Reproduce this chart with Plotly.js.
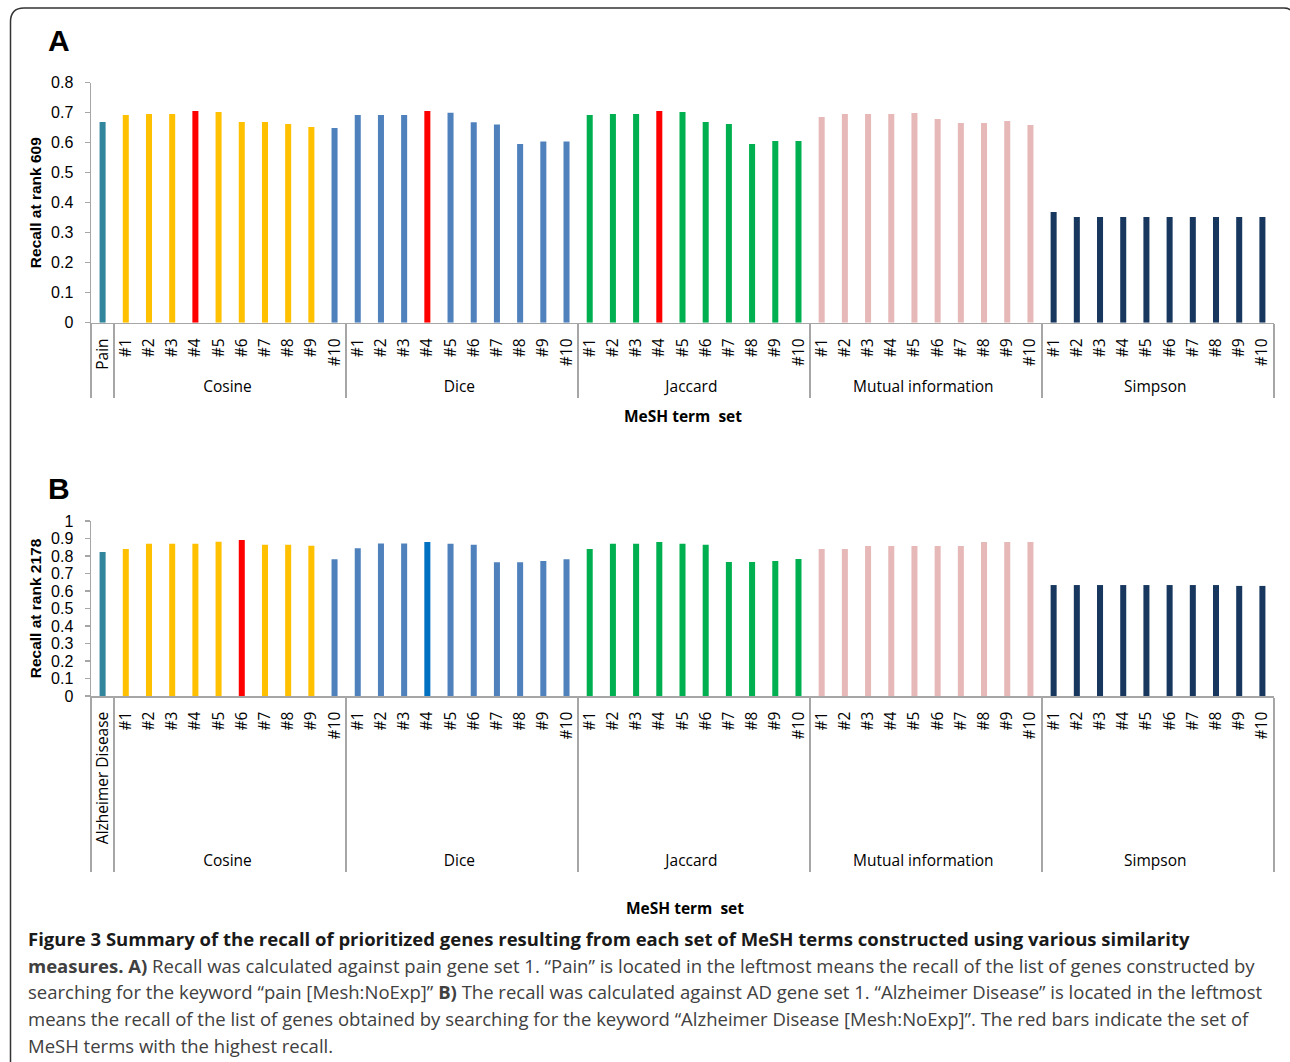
<!DOCTYPE html>
<html>
<head>
<meta charset="utf-8">
<script src="https://cdn.plot.ly/plotly-3.0.1.min.js"></script>
<style>html,body{margin:0;padding:0;background:#fff;}#chart{width:1290px;height:1062px;}</style>
</head>
<body>
<div id="chart"></div>
<script>
// ---------- data ----------
const groups = ["Cosine", "Dice", "Jaccard", "Mutual information", "Simpson"];
const setLabels = ["#1", "#2", "#3", "#4", "#5", "#6", "#7", "#8", "#9", "#10"];

// Panel A: recall at rank 609 (pain gene set 1)
const baselineLabelA = "Pain";
const baselineA = 0.669;
const cosineA  = [0.692, 0.696, 0.696, 0.706, 0.702, 0.669, 0.669, 0.662, 0.652, 0.649];
const diceA    = [0.692, 0.692, 0.692, 0.706, 0.700, 0.668, 0.661, 0.596, 0.604, 0.604];
const jaccardA = [0.692, 0.696, 0.696, 0.706, 0.702, 0.669, 0.662, 0.596, 0.606, 0.606];
const mutualA  = [0.686, 0.696, 0.696, 0.696, 0.699, 0.679, 0.666, 0.666, 0.672, 0.659];
const simpsonA = [0.369, 0.352, 0.352, 0.352, 0.352, 0.352, 0.352, 0.352, 0.352, 0.352];

// Panel B: recall at rank 2178 (AD gene set 1)
const baselineLabelB = "Alzheimer Disease";
const baselineB = 0.823;
const cosineB  = [0.840, 0.870, 0.870, 0.870, 0.882, 0.891, 0.865, 0.865, 0.859, 0.781];
const diceB    = [0.844, 0.872, 0.872, 0.880, 0.870, 0.865, 0.764, 0.764, 0.771, 0.781];
const jaccardB = [0.840, 0.870, 0.870, 0.880, 0.870, 0.865, 0.766, 0.766, 0.771, 0.783];
const mutualB  = [0.840, 0.840, 0.857, 0.857, 0.857, 0.857, 0.857, 0.880, 0.880, 0.880];
const simpsonB = [0.634, 0.634, 0.634, 0.634, 0.634, 0.634, 0.634, 0.634, 0.629, 0.629];

// ---------- styles ----------
const C = {teal:"#31859C", yellow:"#FFC000", red:"#FF0000", blue:"#4F81BD",
           dblue:"#0070C0", green:"#00B050", pink:"#E6B9B8", navy:"#17375E"};
function rep(c, n){ return Array(n).fill(c); }
const colorsA = [C.teal]
  .concat(rep(C.yellow,3), [C.red], rep(C.yellow,5), [C.blue])
  .concat(rep(C.blue,3), [C.red], rep(C.blue,6))
  .concat(rep(C.green,3), [C.red], rep(C.green,6))
  .concat(rep(C.pink,10))
  .concat(rep(C.navy,10));
const colorsB = [C.teal]
  .concat(rep(C.yellow,5), [C.red], rep(C.yellow,3), [C.blue])
  .concat(rep(C.blue,3), [C.dblue], rep(C.blue,6))
  .concat(rep(C.green,10))
  .concat(rep(C.pink,10))
  .concat(rep(C.navy,10));

function buildX(baseLabel){
  const g = [" "], l = [baseLabel];
  groups.forEach(gr => setLabels.forEach(s => { g.push(gr); l.push(s); }));
  return [g, l];
}
const yA = [baselineA].concat(cosineA, diceA, jaccardA, mutualA, simpsonA);
const yB = [baselineB].concat(cosineB, diceB, jaccardB, mutualB, simpsonB);

const W = 1290, H = 1062;
const px = x => x / W;
const py = y => 1 - y / H;

const traces = [
  {type:"bar", x: buildX(baselineLabelA), y: yA, xaxis:"x", yaxis:"y",
   marker:{color: colorsA}, hoverinfo:"y", showlegend:false},
  {type:"bar", x: buildX(baselineLabelB), y: yB, xaxis:"x2", yaxis:"y2",
   marker:{color: colorsB}, hoverinfo:"y", showlegend:false}
];

const axisGray = "#a6a6a6";
const catFont = {family:"Open Sans, Noto Sans, sans-serif", size:15.5, color:"#000"};
const numFont = {family:"Liberation Sans, Arial, sans-serif", size:16, color:"#000"};
function xax(anchor){
  return {type:"multicategory", anchor: anchor, domain:[px(91), px(1274)],
    showline:true, linecolor:axisGray, linewidth:1.5, showdividers:true,
    dividercolor:axisGray, dividerwidth:1.5, tickangle:-90, tickfont:catFont,
    ticklabelstandoff:8,
    ticks:"", showgrid:false, zeroline:false, fixedrange:true};
}
function yax(anchor, dom, rng, title){
  return {anchor: anchor, domain: dom, range: rng, dtick:0.1, tick0:0,
    showline:true, linecolor:axisGray, linewidth:1.5, ticks:"outside", ticklen:5,
    tickcolor:axisGray, tickwidth:1.5, showgrid:false, zeroline:false, tickfont:numFont,
    ticklabelstandoff:8,
    title:{text:"<b>"+title+"</b>", font:{family:"Liberation Sans, Arial, sans-serif", size:15.5, color:"#000"}, standoff:5},
    fixedrange:true};
}

const capFont = {family:"Open Sans, Noto Sans, sans-serif", size:18.5, color:"#404040"};
const captionLines = [
  "<b>Figure 3 Summary of the recall of prioritized genes resulting from each set of MeSH terms constructed using various similarity</b>",
  "<b>measures. A)</b> Recall was calculated against pain gene set 1. “Pain” is located in the leftmost means the recall of the list of genes constructed by",
  "searching for the keyword “pain [Mesh:NoExp]” <b>B)</b> The recall was calculated against AD gene set 1. “Alzheimer Disease” is located in the leftmost",
  "means the recall of the list of genes obtained by searching for the keyword “Alzheimer Disease [Mesh:NoExp]”. The red bars indicate the set of",
  "MeSH terms with the highest recall."
];
const captionY = [938, 965, 991, 1018, 1045];

const labelFont = {family:"Liberation Sans, Arial, sans-serif", size:30, color:"#000"};
const annotations = [
  {text:"<b>A</b>", x:px(59), y:py(41), xanchor:"center", yanchor:"middle", xref:"paper", yref:"paper", showarrow:false, font:labelFont},
  {text:"<b>B</b>", x:px(59), y:py(488), xanchor:"center", yanchor:"middle", xref:"paper", yref:"paper", showarrow:false, font:labelFont},
  {text:"<b>MeSH term&nbsp; set</b>", x:px(683), y:py(416), xanchor:"center", yanchor:"middle", xref:"paper", yref:"paper", showarrow:false, font:catFont},
  {text:"<b>MeSH term&nbsp; set</b>", x:px(685), y:py(908), xanchor:"center", yanchor:"middle", xref:"paper", yref:"paper", showarrow:false, font:catFont}
].concat(captionLines.map((t, i) => ({
  text:t, x:px(26), y:py(captionY[i]), xref:"paper", yref:"paper", xanchor:"left", yanchor:"middle",
  align:"left", showarrow:false, font: i === 0 ? Object.assign({}, capFont, {color:"#1a1a1a"}) : capFont
})));

const frame = `M ${px(10.5)},${py(1062)} L ${px(10.5)},${py(22)} Q ${px(10.5)},${py(8)} ${px(24)},${py(8)} L ${px(1284)},${py(8)} Q ${px(1290)},${py(8)} ${px(1292)},${py(12)}`;

const layout = {
  width: W, height: H, margin:{l:0, r:0, t:0, b:0},
  paper_bgcolor:"#fff", plot_bgcolor:"rgba(0,0,0,0)",
  bargap: 0.74, showlegend:false,
  xaxis: xax("y"),
  yaxis: yax("x", [py(322.7), py(82.7)], [0, 0.8], "Recall at rank 609"),
  xaxis2: xax("y2"),
  yaxis2: yax("x2", [py(696), py(521)], [0, 1], "Recall at rank 2178"),
  annotations: annotations,
  shapes:[{type:"path", path: frame, xref:"paper", yref:"paper", line:{color:"#333", width:1.5}}]
};

Plotly.newPlot("chart", traces, layout, {displayModeBar:false, staticPlot:true});
</script>
</body>
</html>
